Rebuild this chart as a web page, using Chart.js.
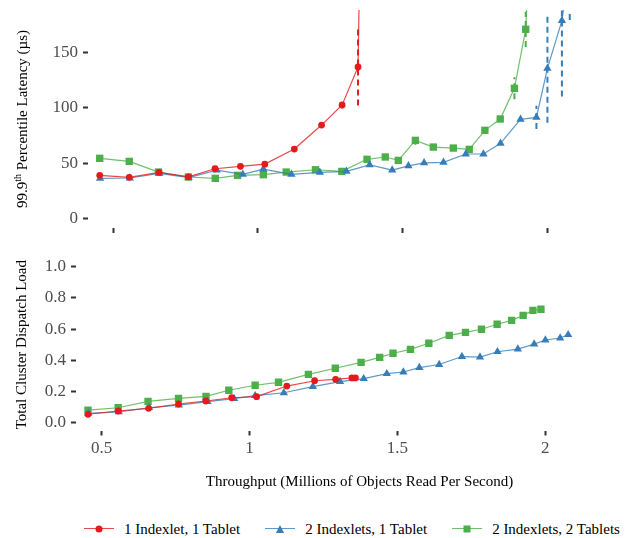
<!DOCTYPE html>
<html>
<head>
<meta charset="utf-8">
<script src="https://cdn.jsdelivr.net/npm/chart.js@4.4.1/dist/chart.umd.min.js"></script>
<style>
    html, body { margin: 0; padding: 0; width: 633px; height: 538px; overflow: hidden; background: #fff; }
    #latencyChart { position: absolute; left: 0; top: 0; }
    #loadChart { position: absolute; left: 0; top: 240px; }
    #legend {
        position: absolute; left: 84px; top: 520px; height: 18px;
        display: flex; gap: 25px; align-items: center;
        font: 15px "Liberation Serif", serif; color: #000; white-space: nowrap;
    }
    .item { display: flex; align-items: center; }
    .key { position: relative; width: 30px; height: 16px; margin-right: 10px; }
    .key .ln { position: absolute; left: 0; right: 0; top: 7px; border-top: 1.5px solid; }
    .key .mk { position: absolute; left: 50%; top: 8px; transform: translate(-50%, -50%); }
</style>
</head>
<body>
<canvas id="latencyChart" width="650" height="240"></canvas>
<canvas id="loadChart" width="650" height="260"></canvas>
<div id="legend"></div>
<script>
const seriesNames = ["1 Indexlet, 1 Tablet", "2 Indexlets, 1 Tablet", "2 Indexlets, 2 Tablets"];
const seriesColors = ["#E41A1C", "#377EB8", "#4DAF4A"];
const lineColors = ["rgba(228, 26, 28, 0.8)", "rgba(55, 126, 184, 0.8)", "rgba(77, 175, 74, 0.8)"];
const seriesMarkers = ["circle", "triangle", "rect"];
const markerSizes = [3.4, 4.8, 5.2];

// 1 indexlet, 1 tablet
const redThroughput = [0.454, 0.556, 0.659, 0.760, 0.852, 0.940, 1.024, 1.126, 1.220, 1.291, 1.346, 1.358];
const redLatency = [38.8, 37.0, 41.5, 37.5, 44.8, 47.0, 49.0, 62.7, 84.5, 102.7, 137.3, 330];
const redLatencyErr = [0, 0, 0, 0, 0, 0, 0, 0, 0, 3, 35, 60];
const redLoad = [0.054, 0.075, 0.092, 0.120, 0.139, 0.160, 0.167, 0.235, 0.269, 0.278, 0.287, 0.287];

// 2 indexlets, 1 tablet
const blueThroughput = [0.455, 0.558, 0.660, 0.761, 0.858, 0.948, 1.019, 1.116, 1.214, 1.306, 1.386, 1.464,
    1.520, 1.574, 1.641, 1.718, 1.779, 1.838, 1.907, 1.962, 2.000, 2.050, 2.077];
const blueLatency = [36.0, 36.4, 40.6, 36.7, 43.6, 39.7, 44.5, 39.7, 41.5, 42.4, 48.4, 43.6,
    47.4, 50.2, 50.6, 58.2, 58.2, 67.9, 89.7, 91.5, 136, 179.4, 230];
const blueLatencyErr = [0, 0, 0, 0, 0, 0, 0, 0, 0, 0, 1.5, 0,
    0, 0, 0, 0, 0, 0, 0, 10.5, 49.5, 69, 50];
const blueLoad = [0.060, 0.070, 0.096, 0.113, 0.135, 0.154, 0.173, 0.192, 0.231, 0.263, 0.282, 0.314,
    0.325, 0.353, 0.373, 0.424, 0.421, 0.455, 0.472, 0.504, 0.530, 0.543, 0.564];

// 2 indexlets, 2 tablets
const greenThroughput = [0.454, 0.556, 0.657, 0.760, 0.853, 0.930, 1.019, 1.098, 1.199, 1.290, 1.377, 1.440,
    1.485, 1.544, 1.606, 1.675, 1.730, 1.784, 1.837, 1.886, 1.925, 1.958, 1.985];
const greenLatency = [54.3, 51.5, 41.8, 37.3, 36.1, 38.8, 39.4, 41.8, 43.9, 42.4, 53.4, 55.5,
    52.4, 70.6, 64.5, 63.6, 62.4, 79.7, 90.0, 117.9, 171.5, 350, 480];
const greenLatencyErr = [0, 0, 0, 0, 0, 0, 0, 0, 0, 0, 0, 0,
    0, 4, 0, 0, 0, 0, 1.5, 10, 16, 40, 60];
const greenLoad = [0.081, 0.096, 0.137, 0.156, 0.169, 0.208, 0.240, 0.259, 0.310, 0.349, 0.387, 0.419,
    0.445, 0.470, 0.509, 0.560, 0.579, 0.599, 0.631, 0.656, 0.688, 0.720, 0.727];

const xTicks = [0.5, 1, 1.5, 2];
const latencyTicks = [0, 50, 100, 150];
const loadTicks = [0, 0.2, 0.4, 0.6, 0.8, 1.0];

const xMin = 0.4135, xMax = 2.33;
const serif = '"Liberation Serif", "Times New Roman", serif';
const tickFont = { family: serif, size: 17 };
const tickGrid = { drawOnChartArea: false, drawTicks: true, tickLength: 5, tickWidth: 2, tickColor: "#333" };

// fix the axis size and drop the label overhang padding so the plot area stays where it should
function fixSize(prop, size) {
    return (s) => {
        s[prop] = size;
        s.paddingTop = 0;
        s.paddingBottom = 0;
        s.paddingLeft = 0;
        s.paddingRight = 0;
    };
}

function makeDataset(i, xs, ys, errs) {
    return {
        label: seriesNames[i],
        data: xs.map((x, k) => ({ x: x, y: ys[k] })),
        errors: errs,
        borderColor: lineColors[i],
        borderWidth: 1.2,
        pointStyle: seriesMarkers[i],
        pointRadius: markerSizes[i],
        pointBackgroundColor: seriesColors[i],
        pointBorderColor: seriesColors[i],
        pointBorderWidth: 0,
        tension: 0,
        fill: false,
    };
}

// dashed vertical error bars, drawn through the chart's own scales
const errorBarPlugin = {
    id: "errorBars",
    beforeDatasetsDraw(chart) {
        const { ctx, chartArea, scales } = chart;
        ctx.save();
        ctx.beginPath();
        ctx.rect(chartArea.left, chartArea.top, chartArea.width, chartArea.height);
        ctx.clip();
        ctx.lineWidth = 2;
        ctx.setLineDash([6, 4]);
        chart.data.datasets.forEach((ds) => {
            if (!ds.errors) return;
            ctx.strokeStyle = ds.pointBackgroundColor;
            ds.data.forEach((p, i) => {
                const e = ds.errors[i];
                if (!e) return;
                const px = scales.x.getPixelForValue(p.x);
                ctx.beginPath();
                ctx.moveTo(px, scales.y.getPixelForValue(p.y - e));
                ctx.lineTo(px, scales.y.getPixelForValue(p.y + e));
                ctx.stroke();
            });
        });
        ctx.restore();
    },
};

// y title with a superscript "th"
const latencyTitlePlugin = {
    id: "latencyTitle",
    afterDraw(chart) {
        const { ctx, chartArea } = chart;
        const big = "15px " + serif;
        const small = "10px " + serif;
        const parts = [["99.9", big, 0], ["th", small, -5], [" Percentile Latency (\u00b5s)", big, 0]];
        ctx.save();
        ctx.translate(23, (chartArea.top + chartArea.bottom) / 2);
        ctx.rotate(-Math.PI / 2);
        let total = 0;
        parts.forEach(([t, f]) => { ctx.font = f; total += ctx.measureText(t).width; });
        let cx = -total / 2;
        ctx.fillStyle = "#000";
        ctx.textBaseline = "middle";
        parts.forEach(([t, f, dy]) => {
            ctx.font = f;
            ctx.fillText(t, cx, dy);
            cx += ctx.measureText(t).width;
        });
        ctx.restore();
    },
};

new Chart(document.getElementById("latencyChart"), {
    type: "line",
    data: {
        datasets: [
            makeDataset(0, redThroughput, redLatency, redLatencyErr),
            makeDataset(1, blueThroughput, blueLatency, blueLatencyErr),
            makeDataset(2, greenThroughput, greenLatency, greenLatencyErr),
        ],
    },
    options: {
        responsive: false,
        animation: false,
        layout: { padding: { top: 10, right: 7, left: 0, bottom: 0 } },
        plugins: { legend: { display: false }, tooltip: { enabled: false } },
        scales: {
            x: {
                type: "linear",
                min: xMin,
                max: xMax,
                afterBuildTicks: (s) => { s.ticks = xTicks.map((v) => ({ value: v })); },
                afterFit: fixSize("height", 12),
                ticks: { display: false },
                grid: tickGrid,
                border: { display: false },
            },
            y: {
                min: -9,
                max: 189,
                afterBuildTicks: (s) => { s.ticks = latencyTicks.map((v) => ({ value: v })); },
                afterFit: fixSize("width", 88),
                ticks: { font: tickFont, color: "#4d4d4d", padding: 5, callback: (v) => String(v) },
                grid: tickGrid,
                border: { display: false },
            },
        },
    },
    plugins: [errorBarPlugin, latencyTitlePlugin],
});

new Chart(document.getElementById("loadChart"), {
    type: "line",
    data: {
        datasets: [
            makeDataset(0, redThroughput, redLoad, null),
            makeDataset(1, blueThroughput, blueLoad, null),
            makeDataset(2, greenThroughput, greenLoad, null),
        ],
    },
    options: {
        responsive: false,
        animation: false,
        layout: { padding: { top: 18.9, right: 7, left: 0, bottom: 0 } },
        plugins: { legend: { display: false }, tooltip: { enabled: false } },
        scales: {
            x: {
                type: "linear",
                min: xMin,
                max: xMax,
                afterBuildTicks: (s) => { s.ticks = xTicks.map((v) => ({ value: v })); },
                afterFit: fixSize("height", 69.5),
                ticks: { font: tickFont, color: "#4d4d4d", padding: 3, maxRotation: 0, callback: (v) => String(v) },
                grid: tickGrid,
                border: { display: false },
                title: {
                    display: true,
                    text: "Throughput (Millions of Objects Read Per Second)",
                    font: { family: serif, size: 15 },
                    color: "#000",
                    padding: { top: 4, bottom: 9 },
                },
            },
            y: {
                min: -0.05,
                max: 1.05,
                afterBuildTicks: (s) => { s.ticks = loadTicks.map((v) => ({ value: v })); },
                afterFit: fixSize("width", 76),
                ticks: { font: tickFont, color: "#4d4d4d", padding: 5, callback: (v) => Number(v).toFixed(1) },
                grid: tickGrid,
                border: { display: false },
                title: {
                    display: true,
                    text: "Total Cluster Dispatch Load",
                    font: { family: serif, size: 15 },
                    color: "#000",
                    padding: { top: 13, bottom: 0 },
                },
            },
        },
    },
});

// legend: line with marker, then the series name
const legend = document.getElementById("legend");
seriesNames.forEach((name, i) => {
    const item = document.createElement("div");
    item.className = "item";
    const key = document.createElement("div");
    key.className = "key";
    const ln = document.createElement("div");
    ln.className = "ln";
    ln.style.borderColor = lineColors[i];
    const mk = document.createElement("div");
    mk.className = "mk";
    if (seriesMarkers[i] === "circle") {
        mk.style.cssText += "width:7px;height:7px;border-radius:50%;background:" + seriesColors[i];
    } else if (seriesMarkers[i] === "triangle") {
        mk.style.cssText += "width:0;height:0;border-left:4.5px solid transparent;border-right:4.5px solid transparent;border-bottom:8px solid " + seriesColors[i];
    } else {
        mk.style.cssText += "width:7px;height:7px;background:" + seriesColors[i];
    }
    key.appendChild(ln);
    key.appendChild(mk);
    const label = document.createElement("span");
    label.textContent = name;
    item.appendChild(key);
    item.appendChild(label);
    legend.appendChild(item);
});
</script>
</body>
</html>
